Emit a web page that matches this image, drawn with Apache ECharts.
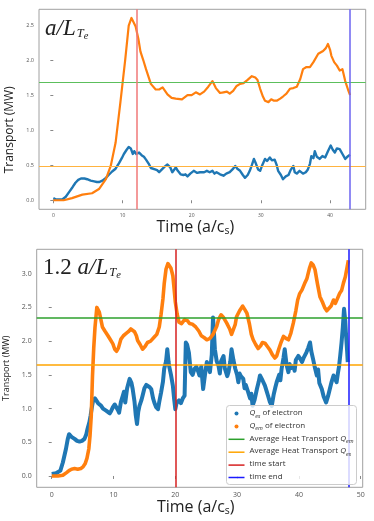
<!DOCTYPE html>
<html><head><meta charset="utf-8">
<script src="https://cdn.jsdelivr.net/npm/echarts@6/dist/echarts.min.js"></script>
<style>html,body{margin:0;padding:0;background:#fff}#c{width:374px;height:521px}</style>
</head><body><div id="c"></div>
<script>
// ---------- data: top panel (a/L_Te) ----------
const topQes = [[0,0.03],[0.4,0.01],[1.3,0.01],[1.8,0.05],[2.3,0.12],[2.8,0.19],[3.2,0.25],[3.6,0.29],[4.0,0.31],[4.5,0.31],[4.9,0.30],[5.4,0.28],[5.9,0.27],[6.3,0.26],[6.6,0.26],[7.1,0.28],[7.6,0.32],[8.0,0.36],[8.5,0.41],[9.0,0.45],[9.5,0.53],[9.9,0.60],[10.2,0.66],[10.6,0.72],[10.9,0.76],[11.2,0.74],[11.5,0.66],[11.7,0.70],[12.0,0.66],[12.4,0.68],[12.8,0.64],[13.1,0.62],[13.4,0.58],[13.8,0.52],[14.1,0.46],[14.3,0.47],[14.7,0.44],[15.0,0.43],[15.3,0.40],[15.7,0.44],[16.1,0.48],[16.5,0.51],[16.9,0.47],[17.2,0.40],[17.5,0.44],[17.7,0.47],[18.0,0.42],[18.4,0.37],[18.8,0.36],[19.1,0.37],[19.4,0.34],[19.8,0.38],[20.3,0.42],[20.8,0.39],[21.2,0.40],[21.8,0.40],[22.2,0.42],[22.6,0.40],[23.0,0.42],[23.3,0.38],[23.6,0.40],[24.1,0.37],[24.6,0.35],[25.0,0.38],[25.5,0.40],[25.9,0.44],[26.3,0.49],[26.6,0.45],[27.0,0.42],[27.4,0.36],[27.7,0.32],[28.1,0.36],[28.4,0.42],[28.7,0.50],[29.0,0.59],[29.3,0.52],[29.6,0.44],[29.9,0.42],[30.2,0.50],[30.6,0.59],[30.9,0.56],[31.3,0.61],[31.6,0.57],[32.0,0.58],[32.3,0.50],[32.5,0.42],[32.9,0.36],[33.2,0.30],[33.6,0.34],[34.0,0.36],[34.3,0.43],[34.7,0.49],[34.9,0.40],[35.2,0.38],[35.6,0.42],[36.1,0.38],[36.5,0.40],[36.8,0.44],[37.1,0.52],[37.3,0.63],[37.6,0.60],[37.8,0.70],[38.1,0.62],[38.5,0.59],[38.9,0.63],[39.3,0.61],[39.7,0.70],[40.1,0.78],[40.4,0.72],[40.7,0.68],[41.0,0.74],[41.4,0.73],[41.8,0.66],[42.2,0.59],[42.5,0.62],[42.9,0.65]];
const topQem = [[0,0.00],[1.5,0.00],[2.7,0.03],[4.2,0.08],[5.6,0.10],[6.6,0.16],[7.6,0.30],[8.3,0.49],[9.0,0.82],[9.7,1.40],[10.4,2.01],[10.9,2.49],[11.3,2.60],[11.9,2.48],[12.3,2.30],[12.6,2.12],[13.0,2.00],[13.4,1.87],[14.1,1.66],[14.8,1.58],[15.3,1.58],[15.8,1.61],[16.5,1.51],[17.1,1.46],[17.7,1.45],[18.6,1.44],[19.4,1.50],[20.0,1.50],[20.6,1.54],[21.2,1.51],[21.8,1.55],[22.4,1.62],[23.0,1.70],[23.5,1.60],[24.1,1.53],[24.6,1.54],[25.1,1.55],[25.5,1.52],[26.0,1.56],[26.5,1.63],[27.0,1.66],[27.5,1.67],[28.0,1.71],[28.7,1.77],[29.2,1.75],[29.5,1.72],[29.9,1.59],[30.3,1.48],[30.6,1.42],[31.1,1.40],[31.5,1.44],[31.9,1.42],[32.3,1.42],[32.8,1.45],[33.2,1.48],[33.7,1.52],[34.2,1.59],[34.7,1.60],[35.2,1.62],[35.7,1.73],[36.1,1.87],[36.6,1.90],[37.1,1.90],[37.6,1.97],[38.3,2.09],[39.0,2.13],[39.4,2.17],[39.7,2.23],[40.0,2.15],[40.2,2.06],[40.6,1.97],[41.0,1.92],[41.4,1.85],[41.8,1.87],[42.2,1.70],[42.6,1.58],[42.9,1.50]];
const topAvgEm = 1.68, topAvgEs = 0.48, topStart = 12.1, topEnd = 42.9;
const topXTicks = [0, 10, 20, 30, 40];
const topYTicks = [0, 0.5, 1.0, 1.5, 2.0, 2.5];

// ---------- data: bottom panel (1.2 a/L_Te) ----------
const botQes = [[0,0.03],[0.3,0.01],[0.7,0.04],[1.0,0.02],[1.4,0.08],[1.8,0.20],[2.3,0.40],[2.6,0.55],[2.8,0.62],[3.2,0.58],[3.7,0.55],[4.1,0.52],[4.5,0.51],[4.9,0.52],[5.3,0.55],[5.6,0.62],[5.8,0.70],[6.1,0.80],[6.3,0.90],[6.5,1.02],[6.7,1.12],[7.0,1.15],[7.2,1.14],[7.5,1.08],[7.8,1.06],[8.0,1.04],[8.3,1.00],[8.6,1.02],[8.8,0.97],[9.1,0.95],[9.4,0.93],[9.6,0.96],[9.9,1.02],[10.2,1.06],[10.4,1.04],[10.7,0.98],[10.9,0.94],[11.2,1.10],[11.5,1.19],[11.7,1.25],[11.9,1.09],[12.2,1.30],[12.6,1.44],[12.9,1.38],[13.1,1.29],[13.4,1.10],[13.6,0.90],[13.8,0.77],[14.0,0.95],[14.2,1.04],[14.5,1.12],[14.7,1.19],[15.0,1.30],[15.3,1.35],[15.5,1.37],[15.8,1.32],[16.1,1.29],[16.4,1.15],[16.6,1.09],[16.9,1.02],[17.2,0.99],[17.4,1.10],[17.7,1.24],[18.0,1.40],[18.2,1.59],[18.5,1.70],[18.7,1.88],[18.9,1.70],[19.0,1.63],[19.3,1.50],[19.6,1.34],[19.8,1.15],[20.0,0.99],[20.2,1.08],[20.6,1.12],[20.9,1.08],[21.2,1.15],[21.5,1.19],[21.6,1.60],[21.7,1.98],[21.9,1.95],[22.2,1.83],[22.5,1.54],[22.8,1.50],[23.1,1.59],[23.4,1.62],[23.7,1.55],[23.9,1.49],[24.2,1.62],[24.5,1.29],[24.8,1.50],[25.1,1.69],[25.4,1.62],[25.6,1.54],[25.9,1.80],[26.1,2.35],[26.3,2.05],[26.4,1.88],[26.7,1.70],[27.0,1.63],[27.2,1.52],[27.4,1.70],[27.8,1.78],[28.0,1.60],[28.2,1.62],[28.4,1.48],[28.6,1.54],[28.9,1.70],[29.1,1.88],[29.4,1.72],[29.7,1.59],[30.0,1.50],[30.2,1.39],[30.4,1.52],[30.6,1.48],[31.0,1.44],[31.2,1.30],[31.4,1.35],[31.8,1.24],[32.1,1.15],[32.3,1.22],[32.5,1.04],[32.8,1.12],[33.2,1.29],[33.5,1.40],[33.7,1.49],[34.1,1.42],[34.5,1.34],[34.8,1.25],[35.0,1.19],[35.3,1.10],[35.6,1.04],[35.9,1.20],[36.2,1.32],[36.4,1.39],[36.8,1.50],[37.0,1.42],[37.2,1.59],[37.5,1.75],[37.7,1.88],[38.0,1.65],[38.3,1.54],[38.5,1.66],[38.7,1.60],[39.1,1.63],[39.3,1.56],[39.5,1.72],[39.9,1.78],[40.2,1.74],[40.5,1.69],[40.8,1.76],[41.2,1.83],[41.5,1.90],[41.8,1.98],[42.0,1.85],[42.3,1.73],[42.6,1.60],[42.9,1.49],[43.1,1.58],[43.3,1.38],[43.7,1.29],[44.0,1.18],[44.4,1.09],[44.7,1.18],[45.0,1.29],[45.3,1.40],[45.6,1.49],[45.8,1.45],[46.1,1.39],[46.3,1.52],[46.5,1.63],[46.7,1.80],[46.9,1.98],[47.1,2.20],[47.3,2.48],[47.5,2.30],[47.6,2.13],[47.8,1.85],[47.9,1.69]];
const botQem = [[0,0.00],[1.0,0.00],[1.8,0.01],[2.4,0.05],[2.8,0.08],[3.2,0.10],[3.7,0.11],[4.2,0.10],[4.7,0.11],[5.1,0.14],[5.4,0.18],[5.7,0.26],[6.0,0.40],[6.2,0.60],[6.4,0.90],[6.6,1.49],[6.8,1.90],[7.0,2.20],[7.3,2.50],[7.5,2.50],[7.7,2.43],[8.0,2.30],[8.2,2.21],[8.6,2.15],[9.1,2.08],[9.5,2.02],[9.9,1.96],[10.2,1.88],[10.5,1.85],[10.8,1.90],[11.2,2.03],[11.6,2.08],[12.0,2.11],[12.4,2.14],[12.8,2.18],[13.1,2.17],[13.4,2.14],[13.7,2.08],[13.9,2.01],[14.3,1.95],[14.7,1.88],[15.1,1.92],[15.5,1.98],[16.0,2.00],[16.6,2.06],[17.0,2.10],[17.4,2.21],[17.7,2.40],[18.0,2.63],[18.2,2.85],[18.5,3.07],[18.8,3.15],[19.0,3.15],[19.3,3.08],[19.6,2.97],[19.8,2.78],[20.0,2.58],[20.3,2.40],[20.6,2.28],[21.0,2.26],[21.5,2.32],[22.0,2.30],[22.3,2.26],[22.8,2.25],[23.3,2.21],[23.8,2.15],[24.2,2.08],[24.7,2.05],[25.1,2.02],[25.6,2.04],[26.1,2.10],[26.7,2.22],[27.0,2.32],[27.4,2.39],[27.8,2.35],[28.3,2.27],[28.8,2.18],[29.1,2.10],[29.4,2.12],[29.7,2.25],[29.9,2.36],[30.4,2.45],[30.9,2.52],[31.3,2.46],[31.6,2.41],[32.0,2.25],[32.3,2.10],[32.6,2.02],[33.0,1.95],[33.4,1.89],[33.8,1.93],[34.1,1.98],[34.5,1.97],[34.9,1.92],[35.3,1.87],[35.7,1.80],[36.1,1.75],[36.4,1.78],[36.7,1.87],[37.1,1.98],[37.5,2.07],[37.9,2.04],[38.3,2.02],[38.7,2.12],[39.1,2.27],[39.5,2.45],[39.8,2.61],[40.1,2.70],[40.5,2.76],[40.9,2.85],[41.3,2.93],[41.7,3.08],[42.0,3.16],[42.3,3.13],[42.6,3.06],[43.0,2.85],[43.4,2.66],[43.8,2.58],[44.2,2.49],[44.5,2.45],[44.8,2.44],[45.2,2.52],[45.6,2.61],[45.9,2.56],[46.2,2.55],[46.6,2.71],[46.9,2.75],[47.2,2.86],[47.5,2.95],[47.8,3.10],[48.0,3.20]];
const botAvgEm = 2.34, botAvgEs = 1.65, botStart = 20.0, botEnd = 48.0;
const botXTicks = [0, 10, 20, 30, 40, 50];
const botYTicks = [0, 0.5, 1.0, 1.5, 2.0, 2.5, 3.0];

const legendNames = ['Qes of electron', 'Qem of electron', 'Average Heat Transport Qem', 'Average Heat Transport Qes', 'time start', 'time end'];
const legendLabels = {
  'Qes of electron': '{q|Q}{sb|es}{t| of electron}',
  'Qem of electron': '{q|Q}{sb|em}{t| of electron}',
  'Average Heat Transport Qem': '{t|Average Heat Transport }{q|Q}{sb|em}',
  'Average Heat Transport Qes': '{t|Average Heat Transport }{q|Q}{sb|es}',
  'time start': '{t|time start}',
  'time end': '{t|time end}'
};

const SANS = 'Open Sans';
const SERIF = 'Liberation Serif';
// thin horizontal bar inside a 16x4 box (the two moves fix the box)
const LINE_ICON = 'path://M0,0M16,4M0,1.25L16,1.25L16,2.75L0,2.75Z';

function markerSeries(name, idx, axisKey, val, color, width) {
  const d = {}; d[axisKey] = val;
  return {
    type: 'line', name: name, xAxisIndex: idx, yAxisIndex: idx, data: [], z: 3,
    symbol: 'none', showSymbol: false,
    itemStyle: { color: color }, lineStyle: { color: color, width: width },
    markLine: {
      silent: true, symbol: ['none', 'none'], label: { show: false }, animation: false,
      emphasis: { disabled: true },
      lineStyle: { color: color, width: width, type: 'solid', opacity: 1 },
      data: [d]
    }
  };
}
function curve(name, idx, data, color, width, z) {
  return {
    type: 'line', name: name, xAxisIndex: idx, yAxisIndex: idx, data: data, z: z,
    showSymbol: false, symbol: 'none', smooth: false,
    itemStyle: { color: color }, lineStyle: { color: color, width: width, join: 'round' },
    emphasis: { disabled: true }
  };
}
function xAxisDef(idx, min, max, ticks, fontSize, nameSize, nameGap, padRight) {
  return {
    type: 'value', gridIndex: idx, min: min, max: max,
    splitLine: { show: false }, axisLine: { show: false },
    axisTick: { show: true, inside: false, length: 3, lineStyle: { color: '#888' }, customValues: ticks },
    axisLabel: { show: true, fontSize: fontSize, color: '#555', margin: 4, fontFamily: SANS, customValues: ticks,
      formatter: function (v) { return String(Math.round(v)); } },
    name: '{m|Time (a/c}{s|s}{m|)}', nameLocation: 'middle', nameGap: nameGap,
    nameTextStyle: {
      padding: [0, padRight, 0, 0],
      rich: {
        m: { fontSize: nameSize, fontFamily: SANS, color: '#222', verticalAlign: 'top', lineHeight: nameSize + 2 },
        s: { fontSize: nameSize * 0.65, fontFamily: SANS, color: '#222', verticalAlign: 'top', padding: [nameSize * 0.45, 0, 0, 0] }
      }
    }
  };
}
function yAxisDef(idx, min, max, ticks, fontSize, nameSize, nameGap, padRight) {
  return {
    type: 'value', gridIndex: idx, min: min, max: max,
    splitLine: { show: false }, axisLine: { show: false },
    axisTick: { show: true, inside: false, length: 3, lineStyle: { color: '#888' }, customValues: ticks },
    axisLabel: { show: true, fontSize: fontSize, color: '#555', margin: 5, fontFamily: SANS, customValues: ticks,
      formatter: function (v) { return v.toFixed(1); } },
    name: 'Transport (MW)', nameLocation: 'middle', nameGap: nameGap,
    nameTextStyle: { fontSize: nameSize, fontFamily: SANS, color: '#222', padding: [0, padRight, 0, 0] }
  };
}

function mathRich(size) {
  return {
    n: { fontFamily: SERIF, fontWeight: 'normal', fontSize: size, color: '#222', verticalAlign: 'top' },
    i: { fontFamily: SERIF, fontWeight: 'normal', fontStyle: 'italic', fontSize: size, color: '#222', verticalAlign: 'top' },
    s: { fontFamily: SERIF, fontWeight: 'normal', fontStyle: 'italic', fontSize: 12.5, color: '#222', verticalAlign: 'top', padding: [10, 0, 0, 1] },
    ss: { fontFamily: SERIF, fontWeight: 'normal', fontStyle: 'italic', fontSize: 10.5, color: '#222', verticalAlign: 'top', padding: [14, 0, 0, 0] }
  };
}

const chart = echarts.init(document.getElementById('c'), null, { renderer: 'canvas' });
chart.setOption({
  animation: false,
  backgroundColor: '#ffffff',
  title: [
    { text: '{i|a/L}{s|T}{ss|e}', left: 45, top: 17, padding: 0,
      textStyle: { fontWeight: 'normal', rich: mathRich(23) } },
    { text: '{n|1.2 }{i|a/L}{s|T}{ss|e}', left: 43, top: 256, padding: 0,
      textStyle: { fontWeight: 'normal', rich: mathRich(23) } }
  ],
  grid: [
    { left: 39, top: 9.3, width: 326.7, height: 200, show: true, borderColor: '#a0a0a0', borderWidth: 1, backgroundColor: 'transparent', containLabel: false, outerBoundsMode: 'none' },
    { left: 36.7, top: 249.3, width: 326, height: 238, show: true, borderColor: '#a0a0a0', borderWidth: 1, backgroundColor: 'transparent', containLabel: false, outerBoundsMode: 'none' }
  ],
  xAxis: [
    xAxisDef(0, -2.07, 45.16, topXTicks, 5, 16, 8, 14),
    xAxisDef(1, -2.43, 50.32, botXTicks, 7, 16, 9, 8)
  ],
  yAxis: [
    yAxisDef(0, -0.129, 2.724, topYTicks, 5.5, 12, 20, 41),
    yAxisDef(1, -0.168, 3.362, botYTicks, 7, 9, 20.5, 0)
  ],
  legend: {
    show: true, data: [
      { name: legendNames[0], icon: 'circle' },
      { name: legendNames[1], icon: 'circle' },
      { name: legendNames[2], icon: LINE_ICON },
      { name: legendNames[3], icon: LINE_ICON },
      { name: legendNames[4], icon: LINE_ICON },
      { name: legendNames[5], icon: LINE_ICON }
    ],
    orient: 'vertical', left: 226.5, top: 405.5, itemWidth: 16, itemHeight: 4, itemGap: 2.4,
    padding: [3, 3, 2, 2], z: 10, symbolKeepAspect: true,
    backgroundColor: 'rgba(255,255,255,0.8)', borderColor: '#cccccc', borderWidth: 1, borderRadius: 3,
    selectedMode: false,
    formatter: function (name) { return legendLabels[name]; },
    textStyle: {
      fontFamily: SANS, fontSize: 8, color: '#333', lineHeight: 10,
      rich: {
        t: { fontFamily: SANS, fontSize: 8, color: '#333', verticalAlign: 'top', lineHeight: 10 },
        q: { fontFamily: SANS, fontStyle: 'italic', fontSize: 8, color: '#333', verticalAlign: 'top', lineHeight: 10 },
        sb: { fontFamily: SANS, fontStyle: 'italic', fontSize: 5.5, color: '#333', verticalAlign: 'top', padding: [4.5, 0, 0, 0] }
      }
    }
  },
  series: [
    curve('top Qes', 0, topQes, '#1f77b4', 2.4, 2),
    curve('top Qem', 0, topQem, '#ff7f0e', 2.2, 2),
    markerSeries('top avg em', 0, 'yAxis', topAvgEm, '#5cbf5c', 1.2),
    markerSeries('top avg es', 0, 'yAxis', topAvgEs, '#ffb340', 1.2),
    markerSeries('top start', 0, 'xAxis', topStart, '#f07878', 1.5),
    markerSeries('top end', 0, 'xAxis', topEnd, '#6b63f0', 1.5),
    curve(legendNames[0], 1, botQes, '#1f77b4', 4, 2),
    curve(legendNames[1], 1, botQem, '#ff7f0e', 3.6, 2),
    markerSeries(legendNames[2], 1, 'yAxis', botAvgEm, '#2ca02c', 1.5),
    markerSeries(legendNames[3], 1, 'yAxis', botAvgEs, '#ffa500', 1.5),
    markerSeries(legendNames[4], 1, 'xAxis', botStart, '#d62020', 1.5),
    markerSeries(legendNames[5], 1, 'xAxis', botEnd, '#1a1aff', 1.5)
  ]
});
</script>
</body></html>
